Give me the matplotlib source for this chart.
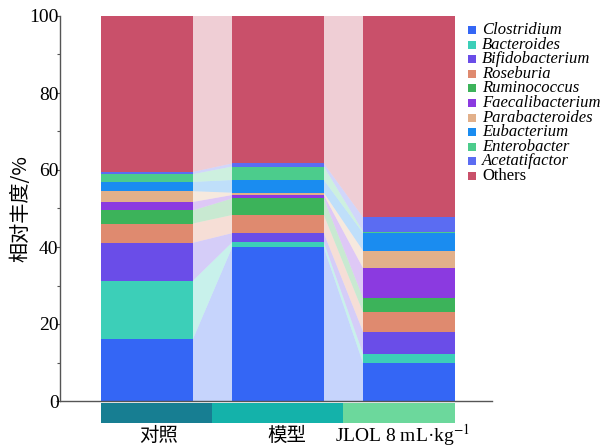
import matplotlib
matplotlib.use("Agg")
import matplotlib.pyplot as plt
from matplotlib.patches import Rectangle
from matplotlib.ticker import MultipleLocator

plt.rcParams['mathtext.fontset'] = 'stix'

# Groups and taxa (relative abundance, %)
groups = ['对照', '模型', 'JLOL 8 mL·kg$^{-1}$']
taxa = ['Clostridium', 'Bacteroides', 'Bifidobacterium', 'Roseburia',
        'Ruminococcus', 'Faecalibacterium', 'Parabacteroides', 'Eubacterium',
        'Enterobacter', 'Acetatifactor', 'Others']

clostridium = [16.0, 39.9, 9.8]
bacteroides = [15.2, 1.3, 2.4]
bifidobacterium = [9.9, 2.4, 5.8]
roseburia = [5.0, 4.7, 5.0]
ruminococcus = [3.4, 4.3, 3.7]
faecalibacterium = [2.2, 0.9, 7.8]
parabacteroides = [2.8, 0.6, 4.5]
eubacterium = [2.4, 3.3, 4.6]
enterobacter = [2.0, 3.5, 0.4]
acetatifactor = [0.6, 0.8, 3.7]
others = [40.5, 38.3, 52.3]

values = [clostridium, bacteroides, bifidobacterium, roseburia, ruminococcus,
          faecalibacterium, parabacteroides, eubacterium, enterobacter,
          acetatifactor, others]

colors = ['#3466f5', '#3ccfb8', '#6a4de8', '#df8a6f', '#3cb35a', '#8b3ae0',
          '#e2b08a', '#1a8cf0', '#4ccc8c', '#5b6cf2', '#c9506a']
group_colors = ['#177e92', '#14b2aa', '#6cd89c']

fig = plt.figure(figsize=(6.07, 4.48), dpi=100)
ax = fig.add_axes([60 / 607, 47 / 448, 432 / 607, 385 / 448])

x = [0, 1, 2]
w = 0.70

# cumulative bottoms per group
bottoms = []
run = [0.0, 0.0, 0.0]
for vals in values:
    bottoms.append(list(run))
    run = [r + v for r, v in zip(run, vals)]

# flows between neighbouring bars
for vals, bots, c in zip(values, bottoms, colors):
    for i in range(len(x) - 1):
        xr = x[i] + w / 2
        xl = x[i + 1] - w / 2
        b0, t0 = bots[i], bots[i] + vals[i]
        b1, t1 = bots[i + 1], bots[i + 1] + vals[i + 1]
        ax.fill([xr, xl, xl, xr], [b0, b1, t1, t0], color=c, alpha=0.28,
                lw=0, zorder=1)

# stacked bars
for vals, bots, c in zip(values, bottoms, colors):
    ax.bar(x, vals, bottom=bots, width=w, color=c, lw=0, zorder=2)

# group strip under the axis
edges = [-w / 2, 0.5, 1.5, 2 + w / 2]
for i, gc in enumerate(group_colors):
    ax.add_patch(Rectangle((edges[i], -5.7), edges[i + 1] - edges[i], 5.2,
                           facecolor=gc, lw=0, clip_on=False, zorder=3))

label_x = [0.088, 1.07, 1.95]
for lx, g in zip(label_x, groups):
    ax.text(lx, -10.5, g, ha='center', va='baseline', fontsize=14,
            family=['Liberation Serif', 'Noto Sans CJK SC'], clip_on=False)

ax.set_xlim(-0.664, 2.634)
ax.set_ylim(0, 100)
ax.set_xticks([])
ax.yaxis.set_major_locator(MultipleLocator(20))
ax.yaxis.set_minor_locator(MultipleLocator(10))
ax.tick_params(axis='y', which='major', length=3, width=0.8, color='#555555',
               pad=-2, labelsize=14)
ax.tick_params(axis='y', which='minor', length=2, width=0.8, color='#555555')
for lab in ax.get_yticklabels():
    lab.set_family('Liberation Serif')
ax.spines['top'].set_visible(False)
ax.spines['right'].set_visible(False)
for s in ('left', 'bottom'):
    ax.spines[s].set_color('#555555')
    ax.spines[s].set_linewidth(1.0)
ax.set_ylabel('相对丰度/%', family='Noto Sans CJK SC', fontsize=14.5)
ax.yaxis.set_label_coords(-0.067, 0.5)

# legend drawn in figure pixels
H = 448
for i, (name, c) in enumerate(zip(taxa, colors)):
    yc = 30 + 14.6 * i
    fig.patches.append(Rectangle((468 / 607, (H - yc - 4) / H), 8 / 607, 8 / H,
                                 transform=fig.transFigure, facecolor=c, lw=0))
    fig.text(482 / 607, (H - yc) / H, name, fontsize=12,
             family='Liberation Serif',
             style='normal' if name == 'Others' else 'italic',
             va='center', ha='left')

fig.savefig('out.png', dpi=100)
